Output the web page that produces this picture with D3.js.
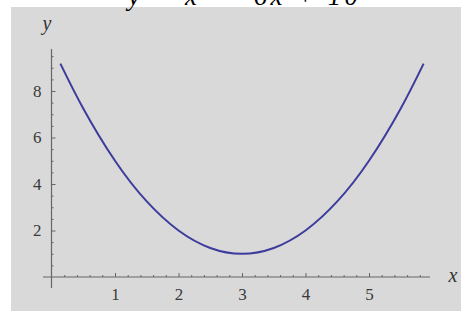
<!DOCTYPE html>
<html><head><meta charset="utf-8">
<script src="https://cdn.jsdelivr.net/npm/d3@7"></script>
<style>body{margin:0;background:#fff}svg{display:block}</style>
</head><body>
<svg id="c" width="461" height="311"></svg>
<script>
const xTicks = [1, 2, 3, 4, 5];
const yTicks = [2, 4, 6, 8];
const curveX = [0.14, 0.5, 1, 1.5, 2, 2.5, 3, 3.5, 4, 4.5, 5, 5.5, 5.86];
const curveY = [9.18, 7.25, 5, 3.25, 2, 1.25, 1, 1.25, 2, 3.25, 5, 7.25, 9.18];
const titleText = "y = x² − 6x + 10";

const serif = "'Liberation Serif', 'Times New Roman', serif";
const svg = d3.select("#c");
const x = d3.scaleLinear().domain([0, 6]).range([51.5, 432.5]);
const y = d3.scaleLinear().domain([0, 8]).range([277, 91]);

svg.append("rect").attr("x", 11).attr("y", 7).attr("width", 450).attr("height", 304).attr("fill", "#d9d9d9");

svg.append("text").attr("x", 243).attr("y", 5).attr("text-anchor", "middle")
  .style("font-family", serif).style("font-style", "italic").style("font-size", "27px")
  .attr("textLength", 230).attr("fill", "#000").text(titleText);

const axisColor = "#666";
svg.append("line").attr("x1", 43).attr("x2", 430).attr("y1", y(0)).attr("y2", y(0)).attr("stroke", axisColor).attr("stroke-width", 1.2);
svg.append("line").attr("x1", x(0)).attr("x2", x(0)).attr("y1", 49).attr("y2", 288).attr("stroke", axisColor).attr("stroke-width", 1.2);

const minorX = d3.range(1, 30).map(i => i * 0.2).filter(v => Math.abs(v - Math.round(v)) > 1e-6);
const minorY = d3.range(1, 20).map(i => i * 0.5).filter(v => v % 2 !== 0);

function styleAxis(g) {
  g.attr("font-family", null).attr("font-size", null);
  g.select(".domain").remove();
  g.selectAll("line").attr("stroke", axisColor);
  g.selectAll("text").style("font-family", serif).style("font-size", "17px").attr("fill", "#3a3a3a");
}

svg.append("g").attr("transform", `translate(0,${y(0)})`)
  .call(d3.axisTop(x).tickValues(minorX).tickSize(2).tickFormat(""))
  .call(styleAxis);
svg.append("g").attr("transform", `translate(0,${y(0)})`)
  .call(d3.axisTop(x).tickValues(xTicks).tickSize(4).tickFormat(""))
  .call(styleAxis);
svg.append("g").attr("transform", `translate(0,${y(0)})`)
  .call(d3.axisBottom(x).tickValues(xTicks).tickSize(0).tickPadding(11).tickFormat(d3.format("d")))
  .call(styleAxis);

svg.append("g").attr("transform", `translate(${x(0)},0)`)
  .call(d3.axisRight(y).tickValues(minorY).tickSize(2).tickFormat(""))
  .call(styleAxis);
svg.append("g").attr("transform", `translate(${x(0)},0)`)
  .call(d3.axisRight(y).tickValues(yTicks).tickSize(4).tickFormat(""))
  .call(styleAxis);
svg.append("g").attr("transform", `translate(${x(0)},0)`)
  .call(d3.axisLeft(y).tickValues(yTicks).tickSize(0).tickPadding(10).tickFormat(d3.format("d")))
  .call(styleAxis);

svg.append("text").attr("x", 453).attr("y", 282).attr("text-anchor", "middle")
  .style("font-family", serif).style("font-style", "italic").style("font-size", "20px").attr("fill", "#333").text("x");
svg.append("text").attr("x", 47).attr("y", 30).attr("text-anchor", "middle")
  .style("font-family", serif).style("font-style", "italic").style("font-size", "20px").attr("fill", "#333").text("y");

const pts = curveX.map((v, i) => [v, curveY[i]]);
svg.append("path").datum(pts)
  .attr("d", d3.line().x(d => x(d[0])).y(d => y(d[1])).curve(d3.curveNatural))
  .attr("fill", "none").attr("stroke", "#3c3c9c").attr("stroke-width", 2);
</script>
</body></html>
